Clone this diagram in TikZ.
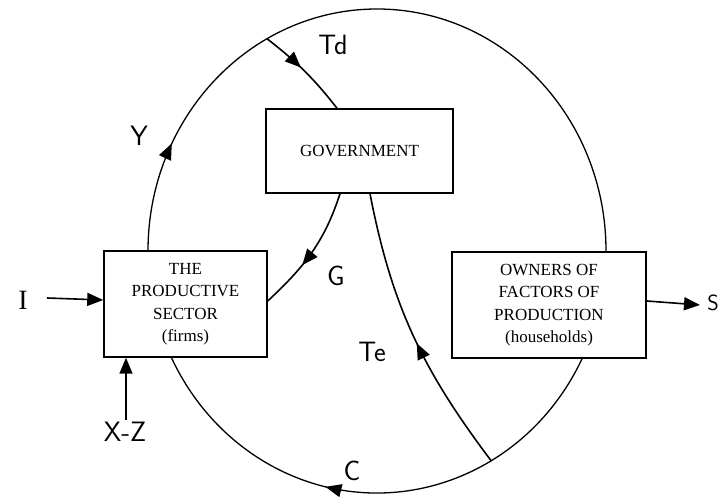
\documentclass[tikz,border=0pt]{standalone}
\usepackage{fontspec}
\setmainfont{Liberation Serif}
\usetikzlibrary{arrows.meta,decorations.markings,calc}
\tikzset{
  box/.style={draw, line width=1.5pt, align=center, inner sep=0pt,
    font=\fontsize{17}{22.5}\selectfont},
  hand/.style={font=\sffamily\fontsize{28}{28}\selectfont, inner sep=0pt},
  flow/.style={line width=1.6pt},
  ring/.style={line width=1.3pt},
  tipped/.style={-{Triangle[length=16pt,width=13pt]}},
  midarrow/.style={postaction={decorate}, decoration={markings,
    mark=at position #1 with {\arrow{Triangle[length=16pt,width=13pt]}}}}
}
\begin{document}
\begin{tikzpicture}[x=1pt,y=1pt]
\useasboundingbox (0,0) rectangle (720,497);
\clip (0,0) rectangle (720,497);
\fill[white] (0,0) rectangle (720,497);

% boxes
\node[box, minimum width=187pt, minimum height=84pt] (gov) at (359.5,346) {GOVERNMENT};
\node[box, minimum width=163pt, minimum height=106pt] (prod) at (185.5,193) {THE\\PRODUCTIVE\\SECTOR\\(firms)};
\node[box, minimum width=194pt, minimum height=106pt] (own) at (549,192) {OWNERS OF\\FACTORS OF\\PRODUCTION\\(households)};

% ellipse points
\coordinate (ec) at (377,246);
\coordinate (eL) at ($(ec)+(180:229 and 242)$);
\coordinate (eBR) at ($(ec)+(334:229 and 242)$);
\coordinate (tdJ) at ($(ec)+(118.7:229 and 242)$);
\coordinate (teJ) at ($(ec)+(299.9:229 and 242)$);

% upper ring (Y)
\draw[ring, midarrow=0.15] (eL) arc[start angle=180, end angle=0, x radius=229, y radius=242];
% lower ring (C)
\draw[ring, midarrow=0.6] (eBR) arc[start angle=334, end angle=206, x radius=229, y radius=242];

% Td
\draw[flow, midarrow=0.45] (tdJ) to[out=-38, in=128] ([xshift=-22.5pt]gov.north);
% G
\draw[flow, midarrow=0.62] ([xshift=-19.5pt]gov.south) to[out=252, in=43] ([yshift=3pt]prod.east);
% Te
\draw[flow, midarrow=0.47] (teJ) to[out=127, in=-79] ([xshift=10.5pt]gov.south);

% external flows
\coordinate (iTail) at (47,199);
\draw[flow, tipped] (iTail) -- ([yshift=4pt]prod.west);
\coordinate (xzTail) at (126,77);
\draw[flow, tipped] (xzTail) -- (xzTail |- prod.south);
\coordinate (sTip) at (700,192);
\draw[flow, tipped] ([yshift=4pt]own.east) -- (sTip);

% labels
\node[hand] (lTd) at (333,452) {Td};
\node[hand] (lY) at (139,361) {Y};
\node[hand] (lG) at (336,221) {G};
\node[hand] (lTe) at (372,145) {Te};
\node[hand] (lC) at (352,26) {C};
\node[font=\fontsize{28}{28}\selectfont, inner sep=0pt] (lI) at (23,197) {I};
\node[hand] (lXZ) at (125,65) {X-Z};
\node[hand, font=\sffamily\fontsize{22}{22}\selectfont, anchor=east] (lS) at (719,194) {S};
\end{tikzpicture}
\end{document}
